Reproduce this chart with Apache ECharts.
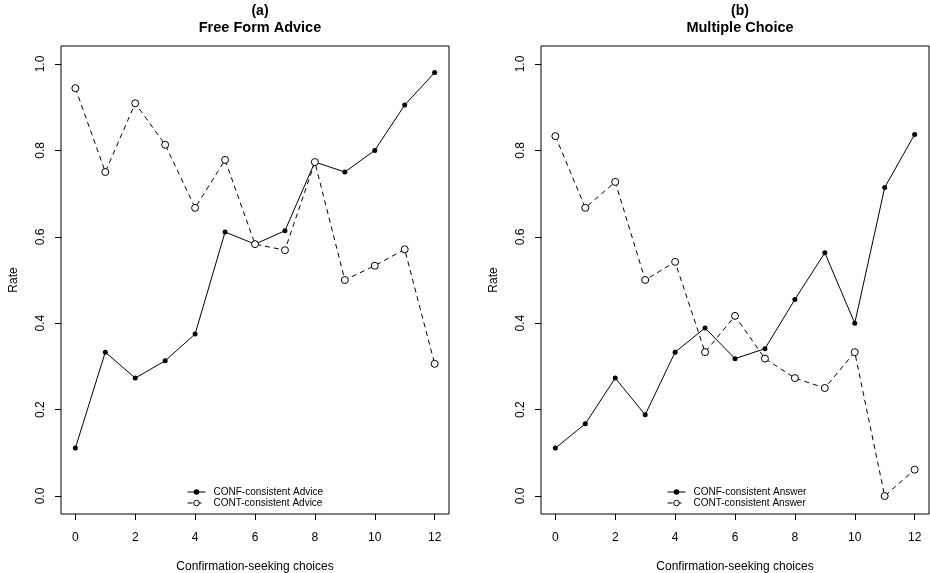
<!DOCTYPE html>
<html>
<head>
<meta charset="utf-8">
<script src="https://cdn.jsdelivr.net/npm/echarts@6/dist/echarts.min.js"></script>
<style>html,body{margin:0;padding:0;background:#fff}#c{width:930px;height:573px}</style>
</head>
<body>
<div id="c"></div>
<script>
const xs = [0,1,2,3,4,5,6,7,8,9,10,11,12];
const xTicks = [0,2,4,6,8,10,12];
const yTicks = [0,0.2,0.4,0.6,0.8,1.0];
const aConf = [0.111,0.333,0.273,0.313,0.375,0.611,0.583,0.614,0.773,0.750,0.800,0.905,0.980];
const aCont = [0.944,0.750,0.909,0.813,0.667,0.778,0.583,0.569,0.773,0.500,0.533,0.571,0.306];
const bConf = [0.111,0.167,0.273,0.188,0.333,0.389,0.318,0.341,0.455,0.563,0.400,0.714,0.837];
const bCont = [0.833,0.667,0.727,0.500,0.542,0.333,0.417,0.318,0.273,0.250,0.333,0.000,0.061];
const panelTitles = [['(a)','Free Form Advice'],['(b)','Multiple Choice']];
const seriesNames = [['CONF-consistent Advice','CONT-consistent Advice'],['CONF-consistent Answer','CONT-consistent Answer']];
const xName = 'Confirmation-seeking choices';
const yName = 'Rate';

const FONT = '"Liberation Sans", Arial, Helvetica, sans-serif';
const pairs = arr => xs.map((x,i)=>[x,arr[i]]);
const gridLefts = [61, 541];
const chart = echarts.init(document.getElementById('c'));

const grids = [], xAxes = [], yAxes = [], series = [], titles = [], legends = [];
[[aConf,aCont],[bConf,bCont]].forEach((d, k) => {
  grids.push({left: gridLefts[k], top: 46, width: 388, height: 468, show: true,
    containLabel: false, outerBoundsMode: 'none',
    borderColor: '#000', borderWidth: 1, backgroundColor: 'transparent'});
  xAxes.push({type: 'value', gridIndex: k, min: -0.48, max: 12.48, position: 'bottom',
    name: xName, nameLocation: 'middle', nameGap: 47,
    nameTextStyle: {fontFamily: FONT, fontSize: 12, color: '#000'},
    axisLine: {show: false, onZero: false}, splitLine: {show: false},
    axisTick: {show: true, inside: false, length: 6, customValues: xTicks, lineStyle: {color: '#000'}},
    axisLabel: {show: true, customValues: xTicks, margin: 18, fontFamily: FONT, fontSize: 12, color: '#000'}
  });
  yAxes.push({type: 'value', gridIndex: k, min: -0.0416, max: 1.0416, position: 'left',
    name: yName, nameLocation: 'middle', nameGap: 41, nameRotate: 90,
    nameTextStyle: {fontFamily: FONT, fontSize: 12, color: '#000'},
    axisLine: {show: false, onZero: false}, splitLine: {show: false},
    axisTick: {show: true, inside: false, length: 6, customValues: yTicks, lineStyle: {color: '#000'}},
    axisLabel: {show: true, customValues: yTicks, rotate: 90, margin: 14, fontFamily: FONT, fontSize: 12, color: '#000',
      formatter: v => Number(v).toFixed(1)}
  });
  series.push({name: seriesNames[k][0], type: 'line', xAxisIndex: k, yAxisIndex: k, data: pairs(d[0]),
    symbol: 'circle', symbolSize: 5, z: 2,
    lineStyle: {color: '#000', width: 1, type: 'solid'},
    itemStyle: {color: '#000', borderWidth: 0}, animation: false});
  series.push({name: seriesNames[k][1], type: 'line', xAxisIndex: k, yAxisIndex: k, data: pairs(d[1]),
    symbol: 'circle', symbolSize: 7, z: 3,
    lineStyle: {color: '#000', width: 1, type: [5,4]},
    itemStyle: {color: '#fff', borderColor: '#000', borderWidth: 1}, animation: false});
  const cx = gridLefts[k] + 194;
  titles.push({text: panelTitles[k][0], left: cx, top: -1, textAlign: 'center',
    textStyle: {fontFamily: FONT, fontSize: 14, fontWeight: 'bold', color: '#000'}});
  titles.push({text: panelTitles[k][1], left: cx, top: 15, textAlign: 'center',
    textStyle: {fontFamily: FONT, fontSize: 14.5, fontWeight: 'bold', color: '#000'}});
  legends.push({data: seriesNames[k], orient: 'vertical', left: gridLefts[k] + 121, top: 482,
    itemWidth: 18, itemHeight: 7, itemGap: 1, selectedMode: false,
    itemStyle: {borderWidth: 1},
    lineStyle: {width: 1},
    textStyle: {fontFamily: FONT, fontSize: 10, color: '#000', padding: [0,0,0,3]}});
});

chart.setOption({
  animation: false,
  backgroundColor: '#fff',
  title: titles,
  legend: legends,
  grid: grids,
  xAxis: xAxes,
  yAxis: yAxes,
  series: series
});
</script>
</body>
</html>
